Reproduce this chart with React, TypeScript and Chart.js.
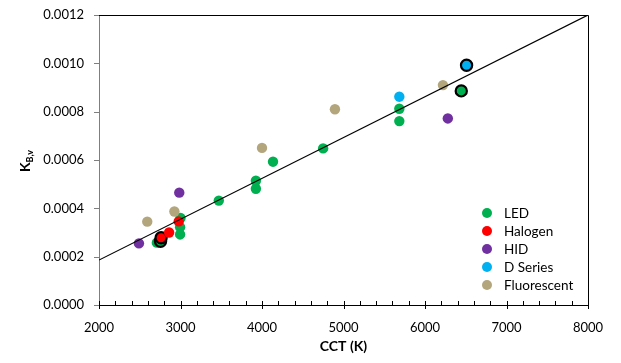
import React, { useEffect, useRef } from "react";
import { Chart, registerables } from "chart.js";

Chart.register(...registerables);

// ---- Data ----
const SERIES_NAMES = ["LED", "Halogen", "HID", "D Series", "Fluorescent"];

const LED_CCT = [2710, 2755, 3000, 2995, 2995, 3470, 3925, 3925, 4135, 4750, 5685, 5685, 6445];
const LED_K = [0.000258, 0.000264, 0.00036, 0.000322, 0.000292, 0.000432, 0.000514, 0.000481, 0.000593, 0.000648, 0.000812, 0.000761, 0.000886];
const LED_RINGED = [1, 12];

const HALOGEN_CCT = [2762, 2860, 2978];
const HALOGEN_K = [0.000278, 0.0003, 0.000346];
const HALOGEN_RINGED = [0];

const HID_CCT = [2490, 2985, 6280];
const HID_K = [0.000255, 0.000465, 0.000772];
const HID_RINGED: number[] = [];

const DSERIES_CCT = [5685, 6510];
const DSERIES_K = [0.000862, 0.000992];
const DSERIES_RINGED = [1];

const FLUOR_CCT = [2592, 2925, 4000, 4895, 6220];
const FLUOR_K = [0.000345, 0.000387, 0.00065, 0.00081, 0.00091];
const FLUOR_RINGED: number[] = [];

const FIT_CCT = [2000, 8000];
const FIT_K = [0.000186, 0.0012];

const X_MIN = 2000;
const X_MAX = 8000;
const X_MAJOR = 1000;
const X_MINOR = 200;
const Y_MIN = 0;
const Y_MAX = 0.0012;
const Y_STEP = 0.0002;

const X_TITLE = "CCT (K)";
const Y_TITLE_MAIN = "K";
const Y_TITLE_SUB = "B,v";

const COLORS = ["#00B050", "#FF0000", "#7030A0", "#00B0F0", "#B3A67D"];

const FONT = "Lato, 'Open Sans', sans-serif";

function makePoints(xs: number[], ys: number[]) {
  return xs.map((x, i) => ({ x, y: ys[i] }));
}

export default function App() {
  const ref = useRef<HTMLCanvasElement | null>(null);

  useEffect(() => {
    if (!ref.current) return;
    const series = [
      { xs: LED_CCT, ys: LED_K, ringed: LED_RINGED },
      { xs: HALOGEN_CCT, ys: HALOGEN_K, ringed: HALOGEN_RINGED },
      { xs: HID_CCT, ys: HID_K, ringed: HID_RINGED },
      { xs: DSERIES_CCT, ys: DSERIES_K, ringed: DSERIES_RINGED },
      { xs: FLUOR_CCT, ys: FLUOR_K, ringed: FLUOR_RINGED },
    ];

    const scatterSets = series.map((s, si) => ({
      type: "scatter" as const,
      label: SERIES_NAMES[si],
      data: makePoints(s.xs, s.ys),
      backgroundColor: COLORS[si],
      pointBackgroundColor: COLORS[si],
      pointBorderColor: s.xs.map((_, i) => (s.ringed.includes(i) ? "#000" : COLORS[si])),
      pointBorderWidth: s.xs.map((_, i) => (s.ringed.includes(i) ? 2.2 : 0)),
      pointRadius: s.xs.map((_, i) => (s.ringed.includes(i) ? 5.6 : 5.2)),
      order: 10 - si,
    }));

    const frameAndTicks = {
      id: "frameAndTicks",
      afterDatasetsDraw(chart: any) {
        const { ctx, chartArea: a, scales } = chart;
        const xs = scales.x;
        const ys = scales.y;
        ctx.save();
        // frame top & right
        ctx.strokeStyle = "#000";
        ctx.lineWidth = 1;
        ctx.beginPath();
        ctx.moveTo(Math.round(a.left) - 4, Math.round(a.top) + 0.5);
        ctx.lineTo(Math.round(a.right) + 0.5, Math.round(a.top) + 0.5);
        ctx.lineTo(Math.round(a.right) + 0.5, Math.round(a.bottom));
        ctx.stroke();
        // x ticks
        ctx.strokeStyle = "#000";
        for (let v = X_MIN; v <= X_MAX + 1e-6; v += X_MINOR) {
          const px = Math.round(xs.getPixelForValue(v)) + 0.5;
          const major = Math.abs(v % X_MAJOR) < 1e-6;
          ctx.beginPath();
          ctx.moveTo(px, a.bottom - 4);
          ctx.lineTo(px, a.bottom + (major ? 4 : 0));
          ctx.stroke();
        }
        // y ticks
        ctx.strokeStyle = "#7f7f7f";
        for (let v = Y_MIN; v <= Y_MAX + 1e-9; v += Y_STEP) {
          const py = Math.round(ys.getPixelForValue(v)) + 0.5;
          ctx.beginPath();
          ctx.moveTo(a.left - 5, py);
          ctx.lineTo(a.left, py);
          ctx.stroke();
        }
        ctx.restore();
      },
      afterDraw(chart: any) {
        const { ctx, chartArea: a } = chart;
        ctx.save();
        // y title with subscript
        ctx.fillStyle = "#000";
        ctx.translate(30, (a.top + a.bottom) / 2 + 1);
        ctx.rotate(-Math.PI / 2);
        ctx.textBaseline = "alphabetic";
        ctx.textAlign = "left";
        ctx.font = `bold 14px ${FONT}`;
        const wK = ctx.measureText(Y_TITLE_MAIN).width;
        ctx.font = `bold 9px ${FONT}`;
        const wS = ctx.measureText(Y_TITLE_SUB).width;
        const start = -(wK + wS) / 2;
        ctx.font = `bold 14px ${FONT}`;
        ctx.fillText(Y_TITLE_MAIN, start, 0);
        ctx.font = `bold 9px ${FONT}`;
        ctx.fillText(Y_TITLE_SUB, start + wK, 3);
        ctx.restore();

        // legend
        ctx.save();
        ctx.font = `13.5px ${FONT}`;
        ctx.textBaseline = "middle";
        ctx.textAlign = "left";
        chart.data.datasets.forEach((ds: any, i: number) => {
          if (ds.type !== "scatter") return;
          const y = a.bottom - 110 + i * 18;
          ctx.fillStyle = ds.backgroundColor;
          ctx.beginPath();
          ctx.arc(a.right - 101, y, 5, 0, Math.PI * 2);
          ctx.fill();
          ctx.fillStyle = "#000";
          ctx.fillText(ds.label, a.right - 84, y + 1);
        });
        ctx.restore();
      },
    };

    const chart = new Chart(ref.current, {
      type: "scatter",
      data: {
        datasets: [
          {
            type: "line" as const,
            label: "fit",
            data: makePoints(FIT_CCT, FIT_K),
            borderColor: "#000",
            borderWidth: 1.2,
            pointRadius: 0,
            fill: false,
            order: 0,
          } as any,
          ...scatterSets,
        ],
      },
      options: {
        animation: false,
        responsive: false,
        maintainAspectRatio: false,
        layout: { padding: { top: 15, right: 33, left: 0, bottom: 0 } },
        plugins: { legend: { display: false }, tooltip: { enabled: false } },
        scales: {
          x: {
            type: "linear",
            min: X_MIN,
            max: X_MAX,
            ticks: {
              stepSize: X_MAJOR,
              color: "#000",
              font: { family: FONT, size: 13 },
              padding: 15,
              maxRotation: 0,
              callback: (v: any) => String(v),
            },
            grid: { display: false, drawTicks: false },
            border: { display: true, color: "#000", width: 1 },
            title: {
              display: true,
              text: X_TITLE,
              color: "#000",
              font: { family: FONT, size: 14, weight: "bold" },
              padding: { top: 0, bottom: 8 },
            },
            afterFit: (s: any) => {
              s.height = 58;
            },
          },
          y: {
            type: "linear",
            min: Y_MIN,
            max: Y_MAX,
            ticks: {
              stepSize: Y_STEP,
              color: "#000",
              font: { family: FONT, size: 13 },
              padding: 15,
              callback: (v: any) => Number(v).toFixed(4),
            },
            grid: { display: false, drawTicks: false },
            border: { display: true, color: "#7f7f7f", width: 1 },
            afterFit: (s: any) => {
              s.width = 99;
              s.paddingTop = 0;
              s.paddingBottom = 0;
            },
          },
        },
      },
      plugins: [frameAndTicks],
    } as any);
    return () => chart.destroy();
  }, []);

  return (
    <div style={{ position: "fixed", left: 0, top: 0, width: 621, height: 363, background: "#fff" }}>
      <canvas ref={ref} width={621} height={363} style={{ width: 621, height: 363 }} />
    </div>
  );
}
